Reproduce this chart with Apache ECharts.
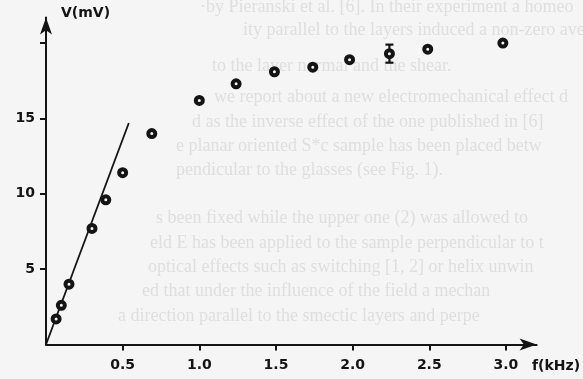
<!DOCTYPE html>
<html>
<head>
<meta charset="utf-8">
<script src="https://cdn.jsdelivr.net/npm/echarts@6/dist/echarts.min.js"></script>
<style>
  html, body { margin: 0; padding: 0; background: #f5f5f5; }
  #chart { width: 583px; height: 379px; }
</style>
</head>
<body>
<div id="chart"></div>
<script>
// measured points: frequency (kHz) vs signal (mV)
const freq = [0.066, 0.10, 0.15, 0.30, 0.39, 0.50, 0.69, 1.00, 1.24, 1.49, 1.74, 1.98, 2.24, 2.49, 2.98];
const volt = [1.7, 2.6, 4.0, 7.7, 9.6, 11.4, 14.0, 16.2, 17.3, 18.1, 18.4, 18.9, 19.3, 19.6, 20.0];

// error bar on one point
const errFreq = [2.24];
const errLow = [18.7];
const errHigh = [19.9];

// linear fit at low frequency
const fitFreq = [0, 0.54];
const fitVolt = [0, 14.7];

const xTicks = [0.5, 1.0, 1.5, 2.0, 2.5, 3.0];
const yTicks = [5, 10, 15, 20];
const yLabels = [5, 10, 15];

// faint text showing through from the page behind
const ghostLines = [
    '·by Pieranski et al. [6]. In their experiment a homeo',
    'ity parallel to the layers induced a non-zero avera',
    'to the layer normal and the shear.',
    'we report about a new electromechanical effect d',
    'd as the inverse effect of the one published in [6]',
    'e planar oriented S*c sample has been placed betw',
    'pendicular to the glasses (see Fig. 1).',
    's been fixed while the upper one (2) was allowed to',
    'eld E has been applied to the sample perpendicular to t',
    'optical effects such as switching [1, 2] or helix unwin',
    'ed that under the influence of the field a mechan',
    'a direction parallel to the smectic layers and perpe'
];
const ghostPos = [[200, 8], [243, 31], [212, 67], [214, 98], [192, 123], [176, 147],
    [176, 171], [156, 219], [150, 244], [148, 268], [142, 292], [118, 317]];

const chart = echarts.init(document.getElementById('chart'));

const ink = '#141414';
const labelFont = { fontFamily: 'DejaVu Sans', fontWeight: 'bold', fontSize: 14, color: ink };

const ghost = ghostLines.map((t, i) => ({
    type: 'text',
    left: ghostPos[i][0],
    top: ghostPos[i][1] - 10,
    z: -10,
    silent: true,
    style: { text: t, fill: '#dedede', font: '18px "Liberation Serif"' }
}));

const option = {
    backgroundColor: '#f5f5f5',
    animation: false,
    grid: { left: 46, top: 17.5, width: 490.6, height: 327 },
    xAxis: {
        type: 'value',
        min: 0,
        max: 3.2,
        splitLine: { show: false },
        axisLine: {
            lineStyle: { color: ink, width: 2 },
            symbol: ['none', 'arrow'],
            symbolSize: [9, 17]
        },
        axisTick: { customValues: xTicks, length: 6, lineStyle: { color: ink, width: 2 } },
        axisLabel: {
            customValues: xTicks,
            margin: 14,
            formatter: v => v.toFixed(1),
            ...labelFont
        }
    },
    yAxis: {
        type: 'value',
        min: 0,
        max: 21.7,
        splitLine: { show: false },
        axisLine: {
            lineStyle: { color: ink, width: 2 },
            symbol: ['none', 'arrow'],
            symbolSize: [9, 17]
        },
        axisTick: { customValues: yTicks, length: 6, lineStyle: { color: ink, width: 2 } },
        axisLabel: { customValues: yLabels, margin: 11, ...labelFont }
    },
    graphic: [
        ...ghost,
        { type: 'text', left: 61, top: 6, style: { text: 'V(mV)', font: 'bold 14px "DejaVu Sans"', fill: ink } },
        { type: 'text', left: 532, top: 359, style: { text: 'f(kHz)', font: 'bold 14px "DejaVu Sans"', fill: ink } }
    ],
    series: [
        {
            type: 'line',
            data: fitFreq.map((f, i) => [f, fitVolt[i]]),
            showSymbol: false,
            lineStyle: { color: ink, width: 1.8 },
            z: 2
        },
        {
            type: 'custom',
            data: errFreq.map((f, i) => [f, errLow[i], errHigh[i]]),
            renderItem: (params, api) => {
                const lo = api.coord([api.value(0), api.value(1)]);
                const hi = api.coord([api.value(0), api.value(2)]);
                const w = 4;
                const st = { stroke: ink, lineWidth: 2.2 };
                return {
                    type: 'group',
                    children: [
                        { type: 'line', shape: { x1: lo[0], y1: lo[1], x2: hi[0], y2: hi[1] }, style: st },
                        { type: 'line', shape: { x1: lo[0] - w, y1: lo[1], x2: lo[0] + w, y2: lo[1] }, style: st },
                        { type: 'line', shape: { x1: hi[0] - w, y1: hi[1], x2: hi[0] + w, y2: hi[1] }, style: st }
                    ]
                };
            },
            z: 3
        },
        {
            type: 'scatter',
            data: freq.map((f, i) => [f, volt[i]]),
            symbol: 'circle',
            symbolSize: 7,
            itemStyle: { color: '#f5f5f5', borderColor: ink, borderWidth: 4, opacity: 1 },
            z: 4
        }
    ]
};

chart.setOption(option);
</script>
</body>
</html>
